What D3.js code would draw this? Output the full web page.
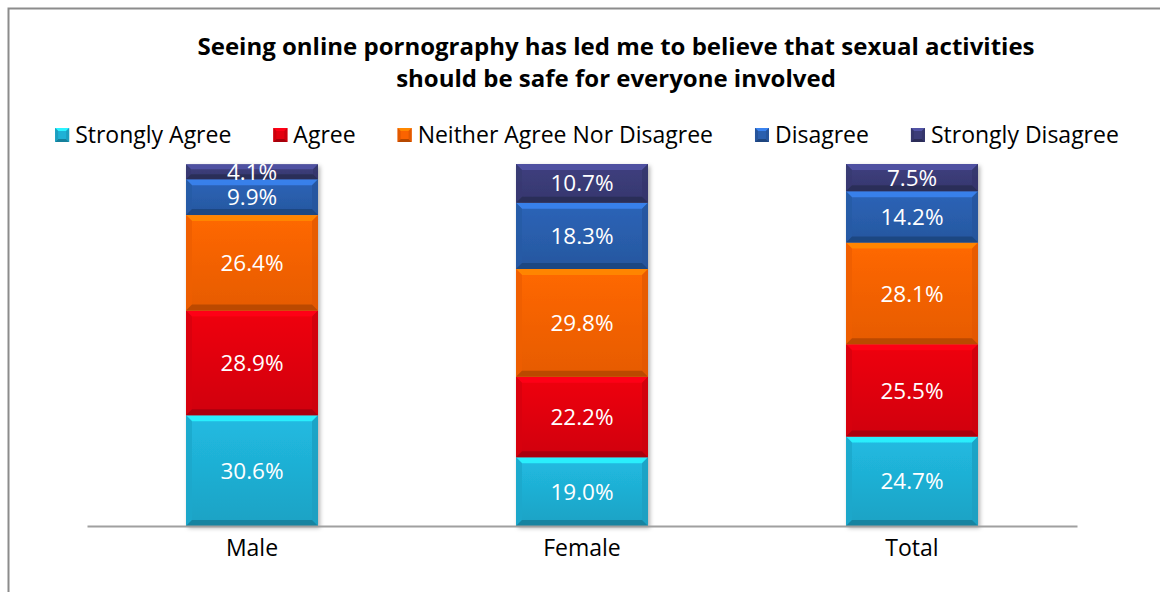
<!DOCTYPE html>
<html>
<head>
<meta charset="utf-8">
<script src="https://cdn.jsdelivr.net/npm/d3@7"></script>
<style>
  body { margin: 0; background: #fff; }
  svg { display: block; font-family: "Open Sans", sans-serif; }
</style>
</head>
<body>
<svg id="chart"></svg>
<script>
var width = 1160;
var height = 592;

var categories = ["Male", "Female", "Total"];
var seriesNames = ["Strongly Agree", "Agree", "Neither Agree Nor Disagree", "Disagree", "Strongly Disagree"];
var stronglyAgree = [30.6, 19.0, 24.7];
var agree = [28.9, 22.2, 25.5];
var neither = [26.4, 29.8, 28.1];
var disagree = [9.9, 18.3, 14.2];
var stronglyDisagree = [4.1, 10.7, 7.5];
var colors = ["#1fb1d6", "#e3000f", "#fb6300", "#2a5fae", "#3b3c78"];
var titleLines = ["Seeing online pornography has led me to believe that sexual activities",
                  "should be safe for everyone involved"];

var values = [stronglyAgree, agree, neither, disagree, stronglyDisagree];

var table = categories.map(function(c, i){
  var row = {category: c};
  seriesNames.forEach(function(s, j){ row[s] = values[j][i]; });
  return row;
});

var stack = d3.stack().keys(seriesNames)(table);

var plot = {left: 87, right: 1077, top: 164, bottom: 526};

var xScale = d3.scaleBand()
  .domain(categories)
  .range([plot.left, plot.right])
  .paddingInner(0.6)
  .paddingOuter(0.3);

var yScale = d3.scaleLinear()
  .domain([0, 100])
  .range([plot.bottom, plot.top]);

var svg = d3.select('#chart')
  .attr('width', width)
  .attr('height', height);

var defs = svg.append('defs');

// chart frame (right and bottom edges run off the picture)
svg.append('rect')
  .attr('x', 8.5).attr('y', 8.5)
  .attr('width', width + 20).attr('height', height + 20)
  .attr('fill', 'none')
  .attr('stroke', '#8c8c8c')
  .attr('stroke-width', 2);

// title
var title = svg.append('text')
  .attr('x', 616)
  .attr('y', 55)
  .attr('text-anchor', 'middle')
  .style('font-weight', 'bold')
  .style('font-size', '24px');
title.selectAll('tspan')
  .data(titleLines)
  .enter()
  .append('tspan')
    .attr('x', 616)
    .attr('dy', (d, i) => i === 0 ? 0 : 32)
    .text(d => d);

// gradients for each series
colors.forEach(function(c, i){
  var g = defs.append('linearGradient')
    .attr('id', 'grad' + i)
    .attr('x1', 0).attr('y1', 0).attr('x2', 0).attr('y2', 1);
  g.append('stop').attr('offset', '0%').attr('stop-color', d3.color(c).brighter(0.15));
  g.append('stop').attr('offset', '100%').attr('stop-color', d3.color(c).darker(0.25));
});

var shadow = defs.append('filter').attr('id', 'shadow')
  .attr('x', '-10%').attr('y', '-10%').attr('width', '130%').attr('height', '130%');
shadow.append('feDropShadow')
  .attr('dx', 2).attr('dy', 2).attr('stdDeviation', 2)
  .attr('flood-color', '#000').attr('flood-opacity', 0.3);

function bevelPoints(x0, y0, x1, y1, side, b){
  if(side === 'top') return [[x0,y0],[x1,y0],[x1-b,y0+b],[x0+b,y0+b]];
  if(side === 'bottom') return [[x0,y1],[x1,y1],[x1-b,y1-b],[x0+b,y1-b]];
  if(side === 'left') return [[x0,y0],[x0+b,y0+b],[x0+b,y1-b],[x0,y1]];
  return [[x1,y0],[x1-b,y0+b],[x1-b,y1-b],[x1,y1]];
}

var bars = svg.append('g').attr('filter', 'url(#shadow)');

stack.forEach(function(layer, li){
  var col = d3.color(colors[li]);
  layer.forEach(function(d, ci){
    var x0 = xScale(categories[ci]);
    var x1 = x0 + xScale.bandwidth();
    var y1 = yScale(d[0]);
    var y0 = yScale(d[1]);
    var b = Math.min(6, (y1 - y0) / 3);
    var seg = bars.append('g');

    seg.append('rect')
      .attr('x', x0).attr('y', y0)
      .attr('width', x1 - x0).attr('height', y1 - y0)
      .attr('fill', 'url(#grad' + li + ')');

    var facets = [
      {side: 'top', fill: col.brighter(0.9), op: 0.9},
      {side: 'left', fill: col.darker(0.15), op: 0.8},
      {side: 'right', fill: col.darker(0.3), op: 0.8},
      {side: 'bottom', fill: col.darker(0.9), op: 0.9}
    ];
    seg.selectAll('polygon')
      .data(facets)
      .enter()
      .append('polygon')
        .attr('points', f => bevelPoints(x0, y0, x1, y1, f.side, b).join(' '))
        .attr('fill', f => f.fill)
        .attr('fill-opacity', f => f.op);

    svg.append('text')
      .attr('x', (x0 + x1) / 2)
      .attr('y', (y0 + y1) / 2)
      .attr('dy', '0.36em')
      .attr('text-anchor', 'middle')
      .attr('fill', '#fff')
      .style('font-size', '22.5px')
      .text(d3.format('.1f')(d.data[seriesNames[li]]) + '%');
  });
});

// x axis
var xAxis = svg.append('g')
  .attr('transform', `translate(0, ${plot.bottom})`)
  .call(d3.axisBottom(xScale).tickSize(0).tickPadding(14).tickSizeOuter(0));
xAxis.select('.domain')
  .attr('stroke', '#a0a0a0')
  .attr('stroke-width', 2);
xAxis.selectAll('text')
  .attr('fill', '#000')
  .style('font-family', '"Open Sans", sans-serif')
  .style('font-size', '23px');

// legend
var legend = svg.append('g');
var lx = 0;
var items = seriesNames.map(function(s, i){
  var g = legend.append('g');
  g.append('rect')
    .attr('x', 0).attr('y', -7)
    .attr('width', 14).attr('height', 14)
    .attr('fill', colors[i]);
  g.selectAll('polygon')
    .data(['top', 'bottom', 'left', 'right'])
    .enter()
    .append('polygon')
      .attr('points', side => bevelPoints(0, -7, 14, 7, side, 3).join(' '))
      .attr('fill', side => side === 'top' ? d3.color(colors[i]).brighter(0.9)
                          : d3.color(colors[i]).darker(side === 'bottom' ? 0.9 : 0.3));
  var t = g.append('text')
    .attr('x', 20)
    .attr('dy', '0.36em')
    .style('font-size', '23px')
    .text(s);
  var w = 20 + t.node().getComputedTextLength();
  g.attr('transform', `translate(${lx}, 0)`);
  lx += w + 42;
  return g;
});
lx -= 42;
legend.attr('transform', `translate(${(52 + 1122) / 2 - lx / 2}, 135)`);
</script>
</body>
</html>
